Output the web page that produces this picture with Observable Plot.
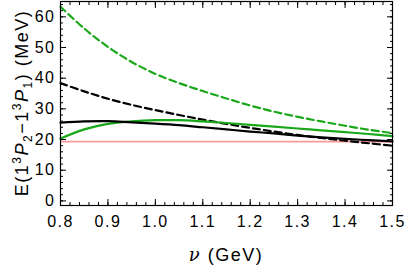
<!DOCTYPE html>
<html><head><meta charset="utf-8">
<script src="https://cdn.jsdelivr.net/npm/d3@7"></script>
<script src="https://cdn.jsdelivr.net/npm/@observablehq/plot@0.6"></script>
<style>body{margin:0;background:#fff}</style>
</head><body><div id="chart"></div>
<script>
// ν (GeV) sample points
const nu          = [0.80, 0.85, 0.90, 0.95, 1.00, 1.05, 1.10, 1.15, 1.20, 1.25, 1.30, 1.35, 1.40, 1.45, 1.50];
// series values (MeV)
const greenDashed = [63.3, 56.2, 50.2, 45.3, 41.4, 38.4, 35.8, 33.4, 31.1, 29.1, 27.4, 25.9, 24.5, 23.2, 22.1];
const blackDashed = [38.4, 35.7, 33.3, 31.3, 29.6, 28.0, 26.5, 25.1, 23.8, 22.6, 21.5, 20.5, 19.6, 18.8, 18.0];
const blackSolid  = [25.5, 25.9, 26.0, 25.6, 25.2, 24.7, 24.0, 23.3, 22.6, 22.0, 21.3, 20.7, 20.2, 19.8, 19.4];
const greenSolid  = [20.3, 23.3, 25.1, 25.9, 26.3, 26.3, 25.9, 25.4, 24.8, 24.2, 23.6, 23.0, 22.4, 21.8, 21.1];
const pinkLevel   = [19.35];
// ticks
const xTicks = [0.8, 0.9, 1.0, 1.1, 1.2, 1.3, 1.4, 1.5];
const yTicks = [0, 10, 20, 30, 40, 50, 60];
const xMinor = d3.range(40, 76, 1).map(i => +(i * 0.02).toFixed(2));
const yMinor = d3.range(0, 66, 2);

const rows = (ys) => nu.map((x, i) => ({x, y: ys[i]}));

const GREEN = "#1aa81a";
const tickStyle = {stroke: "#000", strokeWidth: 1};

const chart = Plot.plot({
  width: 407,
  height: 265,
  marginLeft: 60,
  marginRight: 15,
  marginTop: 1,
  marginBottom: 60,
  style: {fontFamily: "'Liberation Sans', Arial, sans-serif", fontSize: "16px", letterSpacing: "1.5px", background: "#fff", color: "#000"},
  x: {domain: [0.8, 1.5], axis: null},
  y: {domain: [-1.5, 65], axis: null},
  marks: [
    Plot.ruleY(pinkLevel, {stroke: "#ff9a9a", strokeWidth: 1.8}),
    Plot.line(rows(greenDashed), {x: "x", y: "y", stroke: GREEN, strokeWidth: 2.2, strokeDasharray: "7,4", curve: "catmull-rom"}),
    Plot.line(rows(blackDashed), {x: "x", y: "y", stroke: "#000", strokeWidth: 2.2, strokeDasharray: "7,4", curve: "catmull-rom"}),
    Plot.line(rows(greenSolid), {x: "x", y: "y", stroke: GREEN, strokeWidth: 2.2, curve: "catmull-rom"}),
    Plot.line(rows(blackSolid), {x: "x", y: "y", stroke: "#000", strokeWidth: 2.2, curve: "catmull-rom"}),
    Plot.frame({stroke: "#000", strokeWidth: 1.2}),
    // major ticks, inward, all four sides
    Plot.axisX(xTicks, {anchor: "bottom", tickSize: -6, text: null, label: null, ...tickStyle}),
    Plot.axisX(xTicks, {anchor: "top", tickSize: -6, text: null, label: null, ...tickStyle}),
    Plot.axisY(yTicks, {anchor: "left", tickSize: -6, text: null, label: null, ...tickStyle}),
    Plot.axisY(yTicks, {anchor: "right", tickSize: -6, text: null, label: null, ...tickStyle}),
    // minor ticks
    Plot.axisX(xMinor, {anchor: "bottom", tickSize: -3, text: null, label: null, ...tickStyle}),
    Plot.axisX(xMinor, {anchor: "top", tickSize: -3, text: null, label: null, ...tickStyle}),
    Plot.axisY(yMinor, {anchor: "left", tickSize: -3, text: null, label: null, ...tickStyle}),
    Plot.axisY(yMinor, {anchor: "right", tickSize: -3, text: null, label: null, ...tickStyle}),
    // tick labels
    Plot.axisX(xTicks, {anchor: "bottom", tickSize: 0, tickPadding: 10, tickFormat: d3.format(".1f"), label: null}),
    Plot.axisY(yTicks, {anchor: "left", tickSize: 0, tickPadding: 5, label: null})
  ]
});
document.getElementById("chart").appendChild(chart);

// axis titles with super/subscripts
const svg = d3.select(chart);
const yl = svg.append("text")
  .attr("transform", "translate(28,103) rotate(-90)")
  .attr("text-anchor", "middle")
  .attr("font-size", 18)
  .attr("fill", "#000");
yl.append("tspan").text("E(1");
yl.append("tspan").attr("font-size", 12).attr("dy", -7).text("3");
yl.append("tspan").attr("font-style", "italic").attr("dy", 7).text("P");
yl.append("tspan").attr("font-size", 12).attr("dy", 4).text("2");
yl.append("tspan").attr("dy", -4).text("\u22121");
yl.append("tspan").attr("font-size", 12).attr("dy", -7).text("3");
yl.append("tspan").attr("font-style", "italic").attr("dy", 7).text("P");
yl.append("tspan").attr("font-size", 12).attr("dy", 4).text("1");
yl.append("tspan").attr("dy", -4).text(") (MeV)");

const xl = svg.append("text")
  .attr("x", 226).attr("y", 261)
  .attr("text-anchor", "middle")
  .attr("font-size", 18)
  .attr("fill", "#000");
xl.append("tspan").attr("font-style", "italic").attr("font-family", "'DejaVu Serif', serif").text("\u03bd");
xl.append("tspan").text(" (GeV)");
</script>
</body></html>
